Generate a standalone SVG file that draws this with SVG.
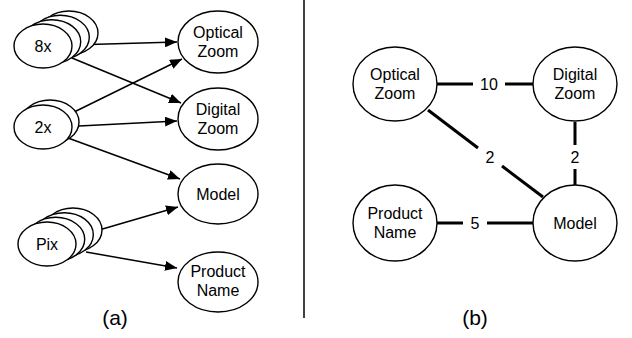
<svg xmlns="http://www.w3.org/2000/svg" width="632" height="338" viewBox="0 0 632 338">
<style>
.n{fill:#fff;stroke:#000;stroke-width:1.4}
.t{font-family:"Liberation Sans",Arial,sans-serif;font-size:16px;fill:#000;text-anchor:middle}
.a{stroke:#000;stroke-width:1.5;fill:none;marker-end:url(#ah)}
.e{stroke:#000;stroke-width:3;fill:none}
.cap{font-family:"Liberation Sans",Arial,sans-serif;font-size:21px;fill:#000;text-anchor:middle}
</style>
<defs>
<marker id="ah" viewBox="0 0 12 10" refX="12" refY="5" markerWidth="12" markerHeight="10" markerUnits="userSpaceOnUse" orient="auto">
<path d="M0,0 L12,5 L0,10 Z" fill="#000"/>
</marker>
</defs>
<rect width="632" height="338" fill="#fff"/>
<line x1="304" y1="0" x2="304" y2="318" stroke="#000" stroke-width="1.5"/>
<g id="connectors-a">
<line class="a" x1="72" y1="45" x2="177" y2="42"/>
<line class="a" x1="72" y1="58" x2="181" y2="103"/>
<line class="a" x1="68" y1="115" x2="182" y2="59"/>
<line class="a" x1="79" y1="126" x2="177" y2="121"/>
<line class="a" x1="68" y1="138" x2="180" y2="179"/>
<line class="a" x1="75" y1="237" x2="178" y2="207"/>
<line class="a" x1="86" y1="252" x2="177" y2="268"/>
</g>
<g id="n-8x">
<ellipse class="n" cx="69" cy="33" rx="29" ry="22"/>
<ellipse class="n" cx="60.3" cy="37.3" rx="29" ry="22"/>
<ellipse class="n" cx="51.7" cy="41.7" rx="29" ry="22"/>
<ellipse class="n" cx="43" cy="46" rx="29" ry="22"/>
<text class="t" x="43" y="52">8x</text>
</g>
<g id="n-2x">
<ellipse class="n" cx="50" cy="122" rx="29" ry="22"/>
<ellipse class="n" cx="43" cy="127" rx="29" ry="22"/>
<text class="t" x="43" y="133">2x</text>
</g>
<g id="n-pix">
<ellipse class="n" cx="73" cy="230" rx="29" ry="22"/>
<ellipse class="n" cx="64.3" cy="234.7" rx="29" ry="22"/>
<ellipse class="n" cx="55.7" cy="239.3" rx="29" ry="22"/>
<ellipse class="n" cx="47" cy="244" rx="29" ry="22"/>
<text class="t" x="47" y="250">Pix</text>
</g>
<g id="a-optical">
<ellipse class="n" cx="218" cy="42" rx="40" ry="31"/>
<text class="t" x="218" y="38">Optical</text>
<text class="t" x="218" y="57">Zoom</text>
</g>
<g id="a-digital">
<ellipse class="n" cx="218" cy="119" rx="40" ry="31"/>
<text class="t" x="218" y="115">Digital</text>
<text class="t" x="218" y="134">Zoom</text>
</g>
<g id="a-model">
<ellipse class="n" cx="218" cy="194" rx="40" ry="30"/>
<text class="t" x="218" y="200">Model</text>
</g>
<g id="a-product">
<ellipse class="n" cx="218" cy="282" rx="40" ry="30"/>
<text class="t" x="218" y="277">Product</text>
<text class="t" x="218" y="296">Name</text>
</g>
<text class="cap" x="115" y="325">(a)</text>
<g id="connectors-b">
<line class="e" x1="437" y1="84" x2="473" y2="84"/>
<line class="e" x1="505" y1="84" x2="533" y2="84"/>
<text class="t" x="489" y="90">10</text>
<line class="e" x1="428" y1="110" x2="478" y2="148"/>
<line class="e" x1="502" y1="166" x2="543" y2="197"/>
<text class="t" x="490" y="163">2</text>
<line class="e" x1="575" y1="122" x2="575" y2="145"/>
<line class="e" x1="575" y1="169" x2="575" y2="185"/>
<text class="t" x="575" y="163">2</text>
<line class="e" x1="437" y1="223" x2="463" y2="223"/>
<line class="e" x1="487" y1="223" x2="533" y2="223"/>
<text class="t" x="475" y="229">5</text>
</g>
<g id="b-optical">
<ellipse class="n" cx="395" cy="84" rx="42" ry="37"/>
<text class="t" x="395" y="80">Optical</text>
<text class="t" x="395" y="99">Zoom</text>
</g>
<g id="b-digital">
<ellipse class="n" cx="575" cy="84" rx="42" ry="37"/>
<text class="t" x="575" y="80">Digital</text>
<text class="t" x="575" y="99">Zoom</text>
</g>
<g id="b-product">
<ellipse class="n" cx="395" cy="223" rx="42" ry="38"/>
<text class="t" x="395" y="219">Product</text>
<text class="t" x="395" y="238">Name</text>
</g>
<g id="b-model">
<ellipse class="n" cx="575" cy="223" rx="42" ry="38"/>
<text class="t" x="575" y="229">Model</text>
</g>
<text class="cap" x="475" y="325">(b)</text>
</svg>
